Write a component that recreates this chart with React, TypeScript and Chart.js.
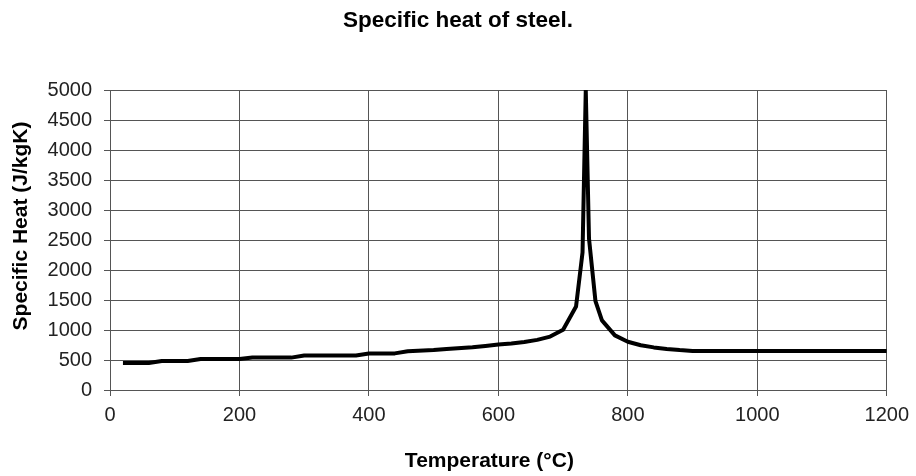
import React, { useEffect, useRef } from "react";
import { Chart, registerables } from "chart.js";

Chart.register(...registerables);

const temperatures = [20, 60, 80, 120, 140, 200, 220, 280, 300, 380, 400, 440, 460, 500, 520, 560, 580, 600, 620, 640, 660, 680, 700, 720, 730, 735, 740, 750, 760, 780, 800, 820, 840, 860, 880, 900, 1200];
const specificHeat = [450, 450, 482, 482, 515, 515, 540, 540, 575, 575, 608, 610, 645, 665, 685, 712, 735, 760, 776, 800, 835, 890, 1005, 1390, 2290, 5000, 2525, 1480, 1160, 910, 805, 745, 710, 685, 665, 650, 650];

const chartTitle = "Specific heat of steel.";
const xTitle = "Temperature (°C)";
const yTitle = "Specific Heat (J/kgK)";
const xMin = 0, xMax = 1200, xStep = 200;
const yMin = 0, yMax = 5000, yStep = 500;

const FONT = "'Liberation Sans', Arial, sans-serif";

const titlesPlugin = {
  id: "customTitles",
  afterDraw(chart: any) {
    const { ctx, chartArea } = chart;
    ctx.save();
    ctx.fillStyle = "#000";
    ctx.textAlign = "center";
    ctx.textBaseline = "middle";
    ctx.font = `bold 22.5px ${FONT}`;
    ctx.fillText(chartTitle, chart.width / 2, 21);
    ctx.font = `bold 21px ${FONT}`;
    ctx.fillText(xTitle, (chartArea.left + chartArea.right) / 2 - 9, 461);
    ctx.translate(21, 226);
    ctx.rotate(-Math.PI / 2);
    ctx.fillText(yTitle, 0, 0);
    ctx.restore();
  },
};

export default function App() {
  const ref = useRef<HTMLCanvasElement | null>(null);
  useEffect(() => {
    if (!ref.current) return;
    const gridColor = "#555";
    const chart = new Chart(ref.current, {
      type: "line",
      data: {
        datasets: [
          {
            data: temperatures.map((t, i) => ({ x: t, y: specificHeat[i] })),
            borderColor: "#000",
            borderWidth: 4,
            pointRadius: 0,
            tension: 0,
            borderJoinStyle: "round",
            fill: false,
          },
        ],
      },
      plugins: [titlesPlugin],
      options: {
        animation: false,
        responsive: false,
        maintainAspectRatio: false,
        layout: { padding: { left: 0, right: 29, top: 90, bottom: 0 } },
        plugins: {
          legend: { display: false },
          tooltip: { enabled: false },
          title: { display: false },
        },
        scales: {
          x: {
            type: "linear",
            min: xMin,
            max: xMax,
            ticks: {
              stepSize: xStep,
              color: "#222",
              font: { family: FONT, size: 20 },
              padding: 7,
              maxRotation: 0,
              callback: (v: any) => String(v),
            },
            grid: { color: gridColor, tickLength: 6, lineWidth: 1 },
            border: { color: gridColor },
            afterFit: (s: any) => {
              s.height = 86;
            },
          },
          y: {
            min: yMin,
            max: yMax,
            ticks: {
              stepSize: yStep,
              color: "#222",
              font: { family: FONT, size: 20 },
              padding: 12,
              callback: (v: any) => String(v),
            },
            grid: { color: gridColor, tickLength: 6, lineWidth: 1 },
            border: { color: gridColor },
            afterFit: (s: any) => {
              s.width = 110;
            },
          },
        },
      },
    });
    return () => chart.destroy();
  }, []);
  return (
    <div style={{ position: "absolute", left: 0, top: 0, width: 916, height: 476, background: "#fff" }}>
      <canvas ref={ref} width={916} height={476} style={{ width: 916, height: 476 }} />
    </div>
  );
}
